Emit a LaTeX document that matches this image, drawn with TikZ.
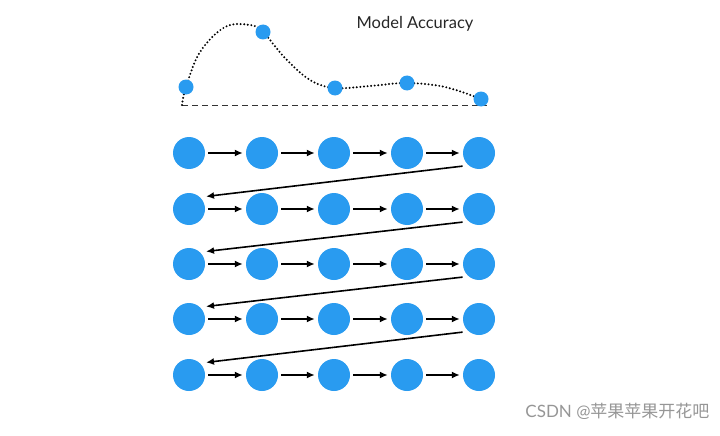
\documentclass[tikz,border=0pt]{standalone}
\usepackage{fontspec}
\setmainfont{Lato}
\newfontfamily\cjkfont{Noto Sans CJK SC}
\usetikzlibrary{arrows.meta}
\definecolor{dotblue}{RGB}{41,155,240}
\definecolor{wmgray}{RGB}{150,150,150}
\begin{document}
\begin{tikzpicture}[x=1pt,y=-1pt,
  dotnode/.style={circle,fill=dotblue,inner sep=0pt,minimum size=32pt},
  smalldot/.style={circle,fill=dotblue,inner sep=0pt,minimum size=15pt},
  arr/.style={-{Latex[length=8pt,width=7pt]},line width=1.6pt,black},
  diag/.style={-{Latex[length=8pt,width=7pt]},line width=1.6pt,black,shorten <=6pt,shorten >=6pt}]
\useasboundingbox (0,0) rectangle (720,436);
% grid
\foreach \r/\yy in {1/153,2/209,3/264,4/319,5/375}{
  \foreach \c/\xx in {1/189,2/262,3/334,4/407,5/479}{
    \node[dotnode] (n\r\c) at (\xx,\yy) {};
  }
}
\foreach \r in {1,...,5}{
  \foreach \c [evaluate=\c as \d using int(\c+1)] in {1,...,4}{
    \draw[arr,shorten <=3pt,shorten >=3pt] (n\r\c) -- (n\r\d);
  }
}
\foreach \r [evaluate=\r as \s using int(\r+1)] in {1,...,4}{
  \draw[diag] (n\r5.230) -- (n\s1.47);
}
% accuracy curve
\coordinate (c0) at (182,105);
\coordinate (cend) at (487,105);
\draw[line width=0.85pt,black!80,dash pattern=on 6pt off 4pt] (c0) -- (cend);
\draw[line width=2.2pt,line cap=round,dash pattern=on 0pt off 3.6pt] plot[smooth,tension=0.6] coordinates
  {(182,105) (186,87) (200,52) (225,27) (250,25) (263,32) (285,58) (310,80) (335,88) (370,86) (407,83) (445,87) (481,99)};
\node[smalldot] (p1) at (186,87) {};
\node[smalldot] (p2) at (263,32) {};
\node[smalldot] (p3) at (335,88) {};
\node[smalldot] (p4) at (407,83) {};
\node[smalldot] (p5) at (481,99) {};
\node[font=\fontsize{16.5}{18}\selectfont,text=black!85] (title) at (415,24) {Model Accuracy};
\node[font=\fontsize{17}{19}\selectfont,text=wmgray,anchor=east] (wm) at (713,411) {CSDN @\cjkfont 苹果苹果开花吧};
\end{tikzpicture}
\end{document}
